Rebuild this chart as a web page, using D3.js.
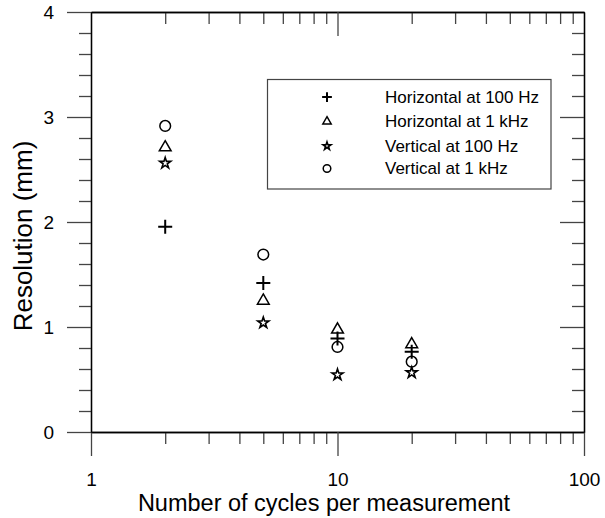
<!DOCTYPE html>
<html>
<head>
<meta charset="utf-8">
<script src="https://cdn.jsdelivr.net/npm/d3@7"></script>
<style>
  body { margin: 0; background: #fff; }
  svg { font-family: "Liberation Sans", Arial, sans-serif; }
</style>
</head>
<body>
<div id="chart"></div>
<script>
// data
const cycles = [2, 5, 10, 20];
const horiz100 = [1.955, 1.42, 0.89, 0.765];
const horiz1k = [2.71, 1.25, 0.975, 0.835];
const vert100 = [2.56, 1.04, 0.545, 0.565];
const vert1k = [2.915, 1.69, 0.81, 0.67];
const seriesNames = ["Horizontal at 100 Hz", "Horizontal at 1 kHz", "Vertical at 100 Hz", "Vertical at 1 kHz"];
const yTicks = [0, 1, 2, 3, 4];
const xTicks = [1, 10, 100];

const width = 605, height = 518;
const plotLeft = 91, plotRight = 584, plotTop = 12, plotBottom = 432;

const svg = d3.select("#chart").append("svg")
  .attr("width", width).attr("height", height);

const x = d3.scaleLog().domain([1, 100]).range([plotLeft, plotRight]);
const y = d3.scaleLinear().domain([0, 4]).range([plotBottom, plotTop]);

// minor ticks
let xMinor = [];
[1, 10].forEach((d) => { for (let i = 2; i <= 9; i++) xMinor.push(d * i); });
let yMinor = d3.range(0, 4.001, 0.2).filter((v) => Math.abs(v - Math.round(v)) > 0.01);

function styleAxis(g) {
  g.selectAll("path").attr("stroke", "#000").attr("stroke-width", 1.3);
  g.selectAll("line").attr("stroke", "#444").attr("stroke-width", 1.3);
  g.selectAll("text").attr("fill", "#000").attr("font-size", 19)
    .attr("font-family", "Liberation Sans, Arial, sans-serif");
}

// bottom
svg.append("g").attr("transform", `translate(0,${plotBottom})`)
  .call(d3.axisBottom(x).tickValues(xMinor).tickSize(12).tickFormat("").tickSizeOuter(0))
  .call(styleAxis);
svg.append("g").attr("transform", `translate(0,${plotBottom})`)
  .call(d3.axisBottom(x).tickValues(xTicks).tickSize(24).tickPadding(17).tickFormat(d3.format("d")).tickSizeOuter(0))
  .call(styleAxis);
// top (inward)
svg.append("g").attr("transform", `translate(0,${plotTop})`)
  .call(d3.axisTop(x).tickValues(xMinor).tickSize(-12).tickFormat("").tickSizeOuter(0))
  .call(styleAxis);
svg.append("g").attr("transform", `translate(0,${plotTop})`)
  .call(d3.axisTop(x).tickValues([10]).tickSize(-24).tickFormat("").tickSizeOuter(0))
  .call(styleAxis);
// left
svg.append("g").attr("transform", `translate(${plotLeft},0)`)
  .call(d3.axisLeft(y).tickValues(yMinor).tickSize(12).tickFormat("").tickSizeOuter(0))
  .call(styleAxis);
svg.append("g").attr("transform", `translate(${plotLeft},0)`)
  .call(d3.axisLeft(y).tickValues(yTicks).tickSize(24).tickPadding(13).tickFormat(d3.format("d")).tickSizeOuter(0))
  .call(styleAxis);
// right (inward)
svg.append("g").attr("transform", `translate(${plotRight},0)`)
  .call(d3.axisRight(y).tickValues(yMinor).tickSize(-12).tickFormat("").tickSizeOuter(0))
  .call(styleAxis);
svg.append("g").attr("transform", `translate(${plotRight},0)`)
  .call(d3.axisRight(y).tickValues([1, 2, 3]).tickSize(-24).tickFormat("").tickSizeOuter(0))
  .call(styleAxis);

// axis titles
svg.append("text")
  .attr("x", 324).attr("y", 511)
  .attr("text-anchor", "middle").attr("font-size", 23.5)
  .text("Number of cycles per measurement");
svg.append("text")
  .attr("transform", `translate(32,236) rotate(-90)`)
  .attr("text-anchor", "middle").attr("font-size", 26)
  .text("Resolution (mm)");

// markers
const plusType = d3.symbolPlus || {
  draw(ctx, size) {
    const r = Math.sqrt(size) * 0.6;
    ctx.moveTo(-r, 0); ctx.lineTo(r, 0); ctx.moveTo(0, -r); ctx.lineTo(0, r);
  }
};
const markers = [
  { type: plusType, size: 66, sw: 2 },
  { type: d3.symbolTriangle, size: 60, sw: 1.5 },
  { type: d3.symbolStar, size: 38, sw: 1.6 },
  { type: d3.symbolCircle, size: 90, sw: 1.5 }
];
const allSeries = [horiz100, horiz1k, vert100, vert1k];

allSeries.forEach((vals, i) => {
  const m = markers[i];
  svg.append("g")
    .selectAll("path")
    .data(cycles.map((c, j) => ({ c: c, v: vals[j] })))
    .join("path")
    .attr("transform", (d) => `translate(${x(d.c)},${y(d.v)})`)
    .attr("d", d3.symbol().type(m.type).size(m.size))
    .attr("fill", "none")
    .attr("stroke", "#000")
    .attr("stroke-width", m.sw);
});

// legend
const legend = svg.append("g");
legend.append("rect")
  .attr("x", 267.5).attr("y", 79.5).attr("width", 283.5).attr("height", 109.5)
  .attr("fill", "#fff").attr("stroke", "#444").attr("stroke-width", 1.2);
const rowY = [97, 121.5, 146, 168.5];
seriesNames.forEach((name, i) => {
  const m = markers[i];
  legend.append("path")
    .attr("transform", `translate(327,${rowY[i]})`)
    .attr("d", d3.symbol().type(m.type).size(m.size * 0.5))
    .attr("fill", "none").attr("stroke", "#000").attr("stroke-width", m.sw);
  legend.append("text")
    .attr("x", 385).attr("y", rowY[i]).attr("dy", "0.35em")
    .attr("font-size", 17)
    .text(name);
});
</script>
</body>
</html>
